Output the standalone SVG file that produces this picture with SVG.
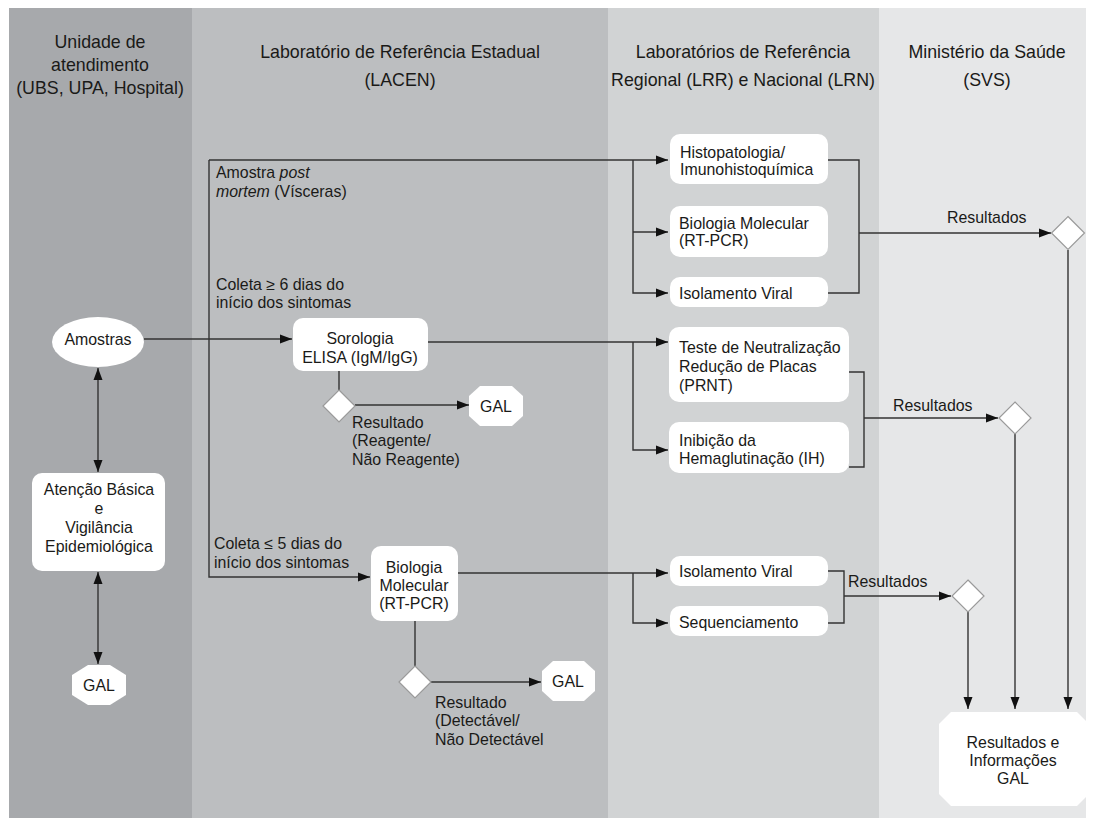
<svg xmlns="http://www.w3.org/2000/svg" width="1094" height="829" viewBox="0 0 1094 829">
<defs>
<marker id="ah" markerWidth="13" markerHeight="10" refX="12" refY="5" orient="auto-start-reverse" markerUnits="userSpaceOnUse"><path d="M0,0.5 L12,5 L0,9.5 Z" fill="#111"/></marker>
<style>
text{font-family:"Liberation Sans",Arial,sans-serif;fill:#1a1a18}
.h{font-size:17.8px;text-anchor:middle}
.t{font-size:15.9px}
.c{text-anchor:middle}
.box{fill:#fff}
.dia{fill:#fff;stroke:#9a9a9a;stroke-width:1.2}
.ln{fill:none;stroke:#333;stroke-width:1.4}
.ar{fill:none;stroke:#333;stroke-width:1.4;marker-end:url(#ah)}
.ar2{fill:none;stroke:#333;stroke-width:1.4;marker-end:url(#ah);marker-start:url(#ah)}
</style>
</defs>
<rect width="1094" height="829" fill="#fff"/>
<g id="lanes">
<rect x="9" y="8" width="183" height="810" fill="#a7a9ac"/>
<rect x="192" y="8" width="416" height="810" fill="#bcbec0"/>
<rect x="608" y="8" width="271" height="810" fill="#d1d3d4"/>
<rect x="879" y="8" width="207" height="810" fill="#e6e7e8"/>
</g>
<g id="headers">
<text class="h" x="100" y="48">Unidade de</text>
<text class="h" x="100" y="71">atendimento</text>
<text class="h" x="100" y="94">(UBS, UPA, Hospital)</text>
<text class="h" x="400" y="58">Laboratório de Referência Estadual</text>
<text class="h" x="400" y="86">(LACEN)</text>
<text class="h" x="743" y="58">Laboratórios de Referência</text>
<text class="h" x="743" y="86">Regional (LRR) e Nacional (LRN)</text>
<text class="h" x="987" y="58">Ministério da Saúde</text>
<text class="h" x="987" y="86">(SVS)</text>
</g>
<g id="connectors">
<path class="ar" d="M144,339 H292"/>
<path class="ar" d="M209,160 H668"/>
<path class="ar" d="M209,160 V577 H370"/>
<path class="ar" d="M633,160 V293 H668"/>
<path class="ar" d="M633,232 H668"/>
<path class="ln" d="M828,160 H859 V293 H828"/>
<path class="ar" d="M859,233 H1051"/>
<path class="ar" d="M1068,250 V709"/>
<path class="ar" d="M428,342 H668"/>
<path class="ar" d="M633,342 V450 H668"/>
<path class="ln" d="M849,372 H864 V467 H849"/>
<path class="ar" d="M864,418 H998"/>
<path class="ar" d="M1015,434 V709"/>
<path class="ln" d="M339,371 V390"/>
<path class="ar" d="M355,405 H469"/>
<path class="ar" d="M458,573 H668"/>
<path class="ar" d="M633,573 V623 H668"/>
<path class="ln" d="M828,571 H844 V623 H828"/>
<path class="ar" d="M844,596 H951"/>
<path class="ar" d="M968,612 V709"/>
<path class="ln" d="M415,621 V666"/>
<path class="ar" d="M431,682 H541"/>
<path class="ar2" d="M98,368 V472"/>
<path class="ar2" d="M98,572 V664"/>
</g>
<g id="amostras">
<ellipse class="box" cx="98" cy="342" rx="46" ry="25"/>
<text class="t c" x="98" y="344.5">Amostras</text>
</g>
<g id="atencao">
<rect class="box" x="32" y="473" width="133" height="98" rx="10"/>
<text class="t c" x="99" y="494.5">Atenção Básica</text>
<text class="t c" x="99" y="513.5">e</text>
<text class="t c" x="99" y="532.5">Vigilância</text>
<text class="t c" x="99" y="551.5">Epidemiológica</text>
</g>
<g id="gal1">
<polygon class="box" points="88,665 110,665 126,675 126,695 110,705 88,705 72,695 72,675"/>
<text class="t c" x="99" y="690.5">GAL</text>
</g>
<g id="label-postmortem">
<text class="t" x="216" y="177.5">Amostra <tspan font-style="italic">post</tspan></text>
<text class="t" x="216" y="196.5"><tspan font-style="italic">mortem</tspan> (Vísceras)</text>
</g>
<g id="label-coleta6">
<text class="t" x="216" y="289.5">Coleta ≥ 6 dias do</text>
<text class="t" x="216" y="307.5">início dos sintomas</text>
</g>
<g id="sorologia">
<rect class="box" x="293" y="318" width="135" height="53" rx="10"/>
<text class="t c" x="360" y="343.5">Sorologia</text>
<text class="t c" x="360" y="362.5">ELISA (IgM/IgG)</text>
</g>
<g id="dec-sorologia">
<polygon class="dia" points="339,390 355,406 339,422 323,406"/>
<text class="t" x="352" y="427.5">Resultado</text>
<text class="t" x="352" y="445.5">(Reagente/</text>
<text class="t" x="352" y="464.5">Não Reagente)</text>
</g>
<g id="gal2">
<polygon class="box" points="480,386 512,386 523,396 523,416 512,426 480,426 469,416 469,396"/>
<text class="t c" x="496" y="411.5">GAL</text>
</g>
<g id="label-coleta5">
<text class="t" x="214" y="548.5">Coleta ≤ 5 dias do</text>
<text class="t" x="214" y="567.5">início dos sintomas</text>
</g>
<g id="biomol-lacen">
<rect class="box" x="371" y="546" width="87" height="75" rx="10"/>
<text class="t c" x="414" y="572.5">Biologia</text>
<text class="t c" x="414" y="590.5">Molecular</text>
<text class="t c" x="414" y="608.5">(RT-PCR)</text>
</g>
<g id="dec-biomol">
<polygon class="dia" points="415,666 431,682 415,698 399,682"/>
<text class="t" x="435" y="707.5">Resultado</text>
<text class="t" x="435" y="725.5">(Detectável/</text>
<text class="t" x="435" y="744.5">Não Detectável</text>
</g>
<g id="gal3">
<polygon class="box" points="553,661 584,661 595,671 595,691 584,701 553,701 542,691 542,671"/>
<text class="t c" x="568" y="686.5">GAL</text>
</g>
<g id="histo">
<rect class="box" x="670" y="134" width="158" height="50" rx="10"/>
<text class="t" x="680" y="157.5">Histopatologia/</text>
<text class="t" x="680" y="174.5">Imunohistoquímica</text>
</g>
<g id="biomol-lrr">
<rect class="box" x="670" y="206" width="158" height="51" rx="10"/>
<text class="t" x="679" y="228.5">Biologia Molecular</text>
<text class="t" x="679" y="245.5">(RT-PCR)</text>
</g>
<g id="isolamento1">
<rect class="box" x="670" y="277" width="158" height="30" rx="10"/>
<text class="t" x="679" y="298.5">Isolamento Viral</text>
</g>
<g id="prnt">
<rect class="box" x="669" y="327" width="180" height="75" rx="10"/>
<text class="t" x="679" y="352.5">Teste de Neutralização</text>
<text class="t" x="679" y="371.5">Redução de Placas</text>
<text class="t" x="679" y="390.5">(PRNT)</text>
</g>
<g id="ih">
<rect class="box" x="669" y="422" width="180" height="51" rx="10"/>
<text class="t" x="679" y="445.5">Inibição da</text>
<text class="t" x="679" y="463.5">Hemaglutinação (IH)</text>
</g>
<g id="isolamento2">
<rect class="box" x="670" y="556" width="158" height="30" rx="10"/>
<text class="t" x="679" y="576.5">Isolamento Viral</text>
</g>
<g id="sequenciamento">
<rect class="box" x="670" y="606" width="158" height="30" rx="10"/>
<text class="t" x="679" y="627.5">Sequenciamento</text>
</g>
<g id="dec1">
<polygon class="dia" points="1068,216.5 1084.5,233 1068,249.5 1051.5,233"/>
<text class="t" x="947" y="222.5">Resultados</text>
</g>
<g id="dec2">
<polygon class="dia" points="1015,402 1031,418 1015,434 999,418"/>
<text class="t" x="893" y="410.5">Resultados</text>
</g>
<g id="dec3">
<polygon class="dia" points="968,580 984,596 968,612 952,596"/>
<text class="t" x="848" y="586.5">Resultados</text>
</g>
<g id="final">
<polygon class="box" points="951,712 1077,712 1089,724 1089,794 1077,806 951,806 939,794 939,724"/>
<text class="t c" x="1013" y="747.5">Resultados e</text>
<text class="t c" x="1013" y="765.5">Informações</text>
<text class="t c" x="1013" y="783.5">GAL</text>
</g>
</svg>
